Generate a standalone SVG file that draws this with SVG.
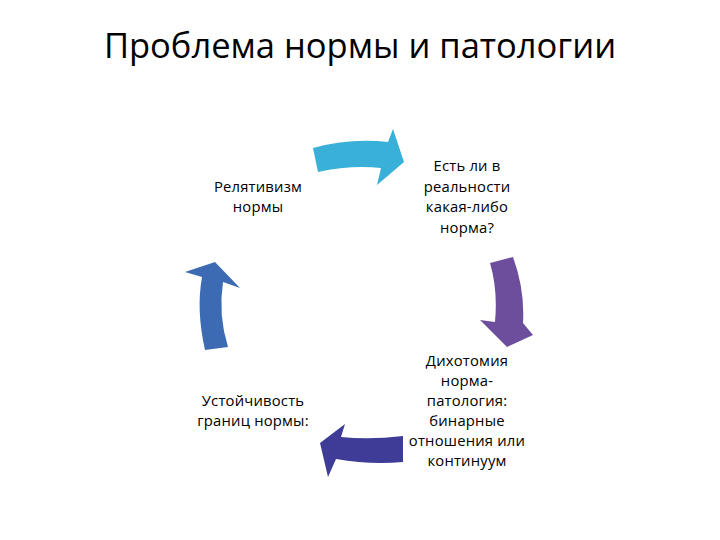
<svg xmlns="http://www.w3.org/2000/svg" width="720" height="540" viewBox="0 0 720 540">
<style>
.title{font-family:"Open Sans","Liberation Sans",sans-serif;font-size:34.5px;fill:#000;text-anchor:middle}
.lbl{font-family:"Open Sans","Liberation Sans",sans-serif;font-size:14.8px;fill:#000;text-anchor:middle;letter-spacing:0.2px}
</style>
<rect width="720" height="540" fill="#fff"/>
<text class="title" x="360" y="58">Проблема нормы и патологии</text>
<g id="connectors">
<path id="arrow-top" d="M313,148 Q350,138 388,142 L393,129 L404,162 L377,185 L381,168 Q350,165 318,172 Z" fill="#38B0D8"/>
<path id="arrow-right" d="M490,263 L513,257 Q525,290 523,323 L533,335 L507,347 L480,320 L495,322 Q498,290 490,263 Z" fill="#6C4E9C"/>
<path id="arrow-bottom" d="M403,436 Q370,440 341,437 L345,424 L320,443 L328,477 L336,459 Q370,465 403,462 Z" fill="#3E3C96"/>
<path id="arrow-left" d="M205,350 Q196,310 202,277 L185,272 L215,262 L240,288 L223,282 Q218,315 228,347 Z" fill="#3C6BB4"/>
</g>
<g id="node-relativism">
<text class="lbl" x="258" y="192">Релятивизм</text>
<text class="lbl" x="258" y="212">нормы</text>
</g>
<g id="node-question">
<text class="lbl" x="467" y="171">Есть ли в</text>
<text class="lbl" x="467" y="192">реальности</text>
<text class="lbl" x="467" y="212">какая-либо</text>
<text class="lbl" x="467" y="233">норма?</text>
</g>
<g id="node-dichotomy">
<text class="lbl" x="467" y="366">Дихотомия</text>
<text class="lbl" x="467" y="386">норма-</text>
<text class="lbl" x="467" y="406">патология:</text>
<text class="lbl" x="467" y="426">бинарные</text>
<text class="lbl" x="467" y="446">отношения или</text>
<text class="lbl" x="467" y="466">континуум</text>
</g>
<g id="node-stability">
<text class="lbl" x="253" y="406">Устойчивость</text>
<text class="lbl" x="253" y="426">границ нормы:</text>
</g>
</svg>
